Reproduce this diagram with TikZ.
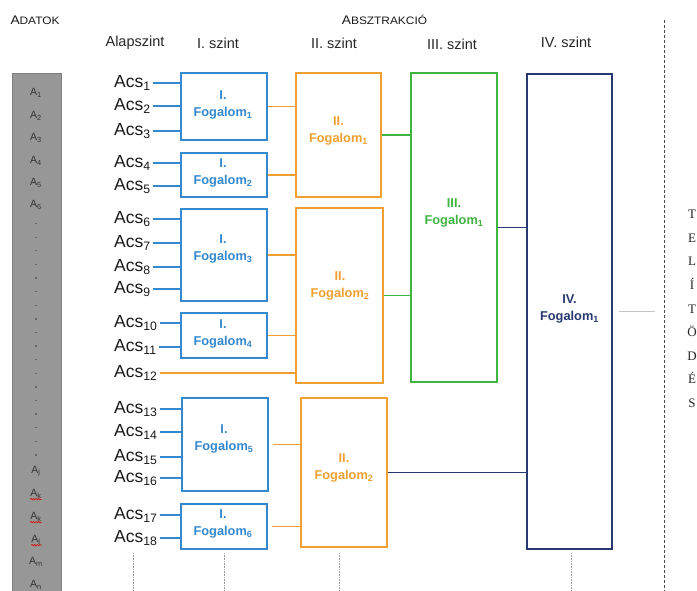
\documentclass[tikz,border=0pt]{standalone}
\usepackage{fontspec}
\setmainfont{Liberation Sans}
\newfontfamily\serifF{Liberation Serif}
\usepackage{graphicx}
\usetikzlibrary{decorations.pathmorphing}
\definecolor{blueC}{RGB}{52,136,206}
\definecolor{orC}{RGB}{240,160,48}
\definecolor{grC}{RGB}{64,180,64}
\definecolor{navC}{RGB}{40,56,112}
\definecolor{colG}{RGB}{151,151,151}
\definecolor{colGd}{RGB}{128,128,128}
\begin{document}
\begin{tikzpicture}[x=1pt,y=-1pt,
  box/.style={draw=#1, line width=1.2pt, inner sep=0pt, fill=white},
  ftext/.style={text=#1, font=\bfseries\fontsize{12.8}{17}\selectfont, align=center, inner sep=0pt},
  acs/.style={anchor=west, inner sep=0pt, font=\fontsize{17.5}{18}\selectfont, text height=12.5pt, text depth=3.5pt, text=black!90},
  alab/.style={inner sep=0pt, font=\fontsize{10.5}{11}\selectfont, text=black!80},
  hdr/.style={inner sep=0pt, font=\fontsize{14.5}{16}\selectfont, text=black!85},
  conn/.style={draw=#1, line width=1.1pt},
  dotl/.style={draw=black!40, line width=0.8pt, dash pattern=on 0.8pt off 0.8pt},
  wavy/.style={draw=red!85!black, line width=0.6pt, decorate, decoration={snake, amplitude=0.7pt, segment length=2.6pt}}
]
\useasboundingbox (0,0) rectangle (697,591);

% data column
\fill[colG] (12,73) rectangle (61,600);
\draw[colGd, line width=0.6pt] (12,600) -- (12,73) -- (61,73) -- (61,600);
\node[alab] (ad1) at (36,93) {A\textsubscript{1}};
\node[alab] (ad2) at (36,116) {A\textsubscript{2}};
\node[alab] (ad3) at (36,138) {A\textsubscript{3}};
\node[alab] (ad4) at (36,161) {A\textsubscript{4}};
\node[alab] (ad5) at (36,183) {A\textsubscript{5}};
\node[alab] (ad6) at (36,205) {A\textsubscript{6}};
\foreach \i in {0,...,17} \fill[black!60] (34.5,{223+13.6*\i}) rectangle +(2,1.3);
\node[alab] (adj) at (36,471) {A\textsubscript{j}};
\node[alab] (adk) at (36,494) {A\textsubscript{k}};
\node[alab] (adk2) at (36,517) {A\textsubscript{k}};
\node[alab] (adl) at (36,540) {A\textsubscript{l}};
\node[alab] (adm) at (36,562) {A\textsubscript{m}};
\node[alab] (adn) at (36,585) {A\textsubscript{n}};
\draw[wavy] ([yshift=-0.5pt]adk.south west) -- ([yshift=-0.5pt]adk.south east);
\draw[wavy] ([yshift=-0.5pt]adk2.south west) -- ([yshift=-0.5pt]adk2.south east);
\draw[wavy] ([yshift=-0.5pt]adl.south west) -- ([yshift=-0.5pt,xshift=1pt]adl.south east);

% headers
\node[inner sep=0pt, text=black!90] (hadat) at (35,20) {\scalebox{1.1}[1]{\fontsize{12.5}{12}\selectfont A\fontsize{10.8}{10}\selectfont DATOK}};
\node[inner sep=0pt, text=black!90] (habs) at (384.5,20) {\scalebox{1.1}[1]{\fontsize{12.5}{12}\selectfont A\fontsize{10.8}{10}\selectfont BSZTRAKCIÓ}};
\node[hdr] (h0) at (135,43) {Alapszint};
\node[hdr] (h1) at (218,43) {I. szint};
\node[hdr] (h2) at (334,43) {II. szint};
\node[hdr] (h3) at (452,44) {III. szint};
\node[hdr] (h4) at (566,42) {IV. szint};

% level I boxes
\node[box=blueC, minimum width=86pt, minimum height=67pt] (f1) at (224,106.5) {};
\node[box=blueC, minimum width=86pt, minimum height=44pt] (f2) at (224,175) {};
\node[box=blueC, minimum width=86pt, minimum height=92pt] (f3) at (224,255) {};
\node[box=blueC, minimum width=86pt, minimum height=45pt] (f4) at (224,335.5) {};
\node[box=blueC, minimum width=86pt, minimum height=93pt] (f5) at (225,444.5) {};
\node[box=blueC, minimum width=86pt, minimum height=45pt] (f6) at (224,526.5) {};
\node[ftext=blueC] (t1) at (223,104.5) {I.\\Fogalom\textsubscript{1}};
\node[ftext=blueC] (t2) at (223,173) {I.\\Fogalom\textsubscript{2}};
\node[ftext=blueC] (t3) at (223,249) {I.\\Fogalom\textsubscript{3}};
\node[ftext=blueC] (t4) at (223,333.5) {I.\\Fogalom\textsubscript{4}};
\node[ftext=blueC] (t5) at (224,438.5) {I.\\Fogalom\textsubscript{5}};
\node[ftext=blueC] (t6) at (223,524) {I.\\Fogalom\textsubscript{6}};

% level II boxes
\node[box=orC, minimum width=85pt, minimum height=124pt] (g1) at (338.5,135) {};
\node[box=orC, minimum width=87pt, minimum height=175pt] (g2) at (339.5,295.5) {};
\node[box=orC, minimum width=86pt, minimum height=149pt] (g3) at (344,472.5) {};
\node[ftext=orC] (u1) at (338.5,131) {II.\\Fogalom\textsubscript{1}};
\node[ftext=orC] (u2) at (340,285.5) {II.\\Fogalom\textsubscript{2}};
\node[ftext=orC] (u3) at (344,467.5) {II.\\Fogalom\textsubscript{2}};

% level III and IV
\node[box=grC, minimum width=86pt, minimum height=309pt] (h) at (454,227.5) {};
\node[ftext=grC] (v1) at (454,213) {III.\\Fogalom\textsubscript{1}};
\node[box=navC, minimum width=85pt, minimum height=475pt] (k) at (569.5,311.5) {};
\node[ftext=navC] (w1) at (569.5,308.5) {IV.\\Fogalom\textsubscript{1}};

% base-level concepts
\node[acs] (a1) at (114,83) {Acs\textsubscript{1}};
\node[acs] (a2) at (114,106) {Acs\textsubscript{2}};
\node[acs] (a3) at (114,131) {Acs\textsubscript{3}};
\node[acs] (a4) at (114,163) {Acs\textsubscript{4}};
\node[acs] (a5) at (114,186) {Acs\textsubscript{5}};
\node[acs] (a6) at (114,219) {Acs\textsubscript{6}};
\node[acs] (a7) at (114,243) {Acs\textsubscript{7}};
\node[acs] (a8) at (114,267) {Acs\textsubscript{8}};
\node[acs] (a9) at (114,289) {Acs\textsubscript{9}};
\node[acs] (a10) at (114,323) {Acs\textsubscript{10}};
\node[acs] (a11) at (114,347) {Acs\textsubscript{11}};
\node[acs] (a12) at (114,373) {Acs\textsubscript{12}};
\node[acs] (a13) at (114,409) {Acs\textsubscript{13}};
\node[acs] (a14) at (114,432) {Acs\textsubscript{14}};
\node[acs] (a15) at (114,457) {Acs\textsubscript{15}};
\node[acs] (a16) at (114,478) {Acs\textsubscript{16}};
\node[acs] (a17) at (114,515) {Acs\textsubscript{17}};
\node[acs] (a18) at (114,538) {Acs\textsubscript{18}};

\foreach \a/\b in {a1/f1,a2/f1,a3/f1,a4/f2,a5/f2,a6/f3,a7/f3,a8/f3,a9/f3,a10/f4,a11/f4,a13/f5,a14/f5,a15/f5,a16/f5,a17/f6,a18/f6}
  \draw[conn=blueC] ([xshift=2pt]\a.east) -- (\a.east -| \b.west);
\draw[conn=orC] ([xshift=2pt]a12.east) -- (a12.east -| g2.west);

% level I -> II
\foreach \a/\b in {f1/g1,f2/g1,f3/g2,f4/g2}
  \draw[conn=orC] (\a.east) -- (\a.east -| \b.west);
\foreach \a/\b in {f5/g3,f6/g3}
  \draw[conn=orC] ([xshift=4pt]\a.east) -- (\a.east -| \b.west);
% level II -> III
\foreach \a in {g1,g2}
  \draw[conn=grC] (\a.east) -- (\a.east -| h.west);
% -> IV
\draw[conn=navC] (h.east) -- (h.east -| k.west);
\draw[conn=navC] (g3.east) -- (g3.east -| k.west);
\coordinate (gend) at (655,310);
\draw[draw=black!22, line width=1pt] ([xshift=6pt]k.east) -- (k.east -| gend);

% saturation divider
\coordinate (dtop) at (664,20);
\coordinate (dbot) at (664,595);
\draw[black!70, line width=1pt, dash pattern=on 3pt off 2pt] (dtop) -- (dbot);
\node[inner sep=0pt, align=center, font=\serifF\fontsize{13}{23.6}\selectfont, text=black!85] (sat) at (692,309) {T\\E\\L\\Í\\T\\Ö\\D\\É\\S};

% dotted continuation lines
\foreach \x/\n in {133/c0,224/c1,339/c2,571/c4}{
  \coordinate (\n t) at (\x,553);
  \coordinate (\n b) at (\x,595);
  \draw[dotl] (\n t) -- (\n b);
}
\end{tikzpicture}
\end{document}
